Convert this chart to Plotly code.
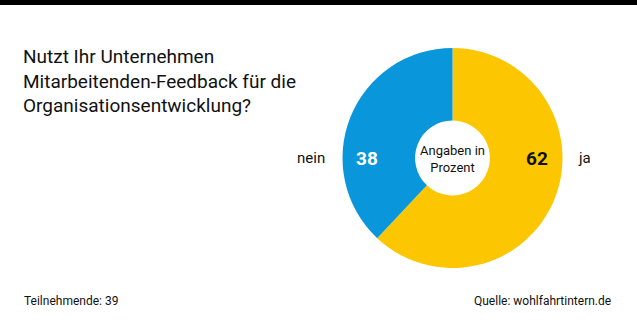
import plotly.graph_objects as go

categories = ["ja", "nein"]
values = [62, 38]
colors = ["#fcc600", "#0a96da"]
title_lines = ["Nutzt Ihr Unternehmen", "Mitarbeitenden-Feedback für die", "Organisationsentwicklung?"]
center_text = "Angaben in<br>Prozent"
footer_left = "Teilnehmende: 39"
footer_right = "Quelle: wohlfahrtintern.de"

W, H = 637, 325
FONT = "Roboto, Arial, sans-serif"

cx, cy, r = 452.5, 158, 110
fig = go.Figure(go.Pie(
    labels=categories, values=values, sort=False, direction="clockwise", rotation=0,
    hole=0.34, marker=dict(colors=colors, line=dict(width=0)),
    textinfo="none", hoverinfo="label+value", showlegend=False,
    domain=dict(x=[(cx - r) / W, (cx + r) / W], y=[(H - cy - r) / H, (H - cy + r) / H]),
))

def px(x): return x / W
def py(y): return 1 - y / H

ann = []
for i, line in enumerate(title_lines):
    ann.append(dict(x=px(21), y=py(57 + 24.5 * i), xanchor="left", yanchor="middle",
                    text=line, align="left", showarrow=False,
                    font=dict(family=FONT, size=19, color="#111")))
ann.append(dict(x=px(cx), y=py(159), xanchor="center", yanchor="middle", text=center_text,
                showarrow=False, font=dict(family=FONT, size=13, color="#111")))
ann.append(dict(x=px(537), y=py(158), xanchor="center", yanchor="middle", text=f"<b>{values[0]}</b>",
                showarrow=False, font=dict(family=FONT, size=19, color="#111")))
ann.append(dict(x=px(367), y=py(158), xanchor="center", yanchor="middle", text=f"<b>{values[1]}</b>",
                showarrow=False, font=dict(family=FONT, size=19, color="white")))
ann.append(dict(x=px(584), y=py(158), xanchor="center", yanchor="middle", text=categories[0],
                showarrow=False, font=dict(family=FONT, size=15, color="#111")))
ann.append(dict(x=px(311), y=py(158), xanchor="center", yanchor="middle", text=categories[1],
                showarrow=False, font=dict(family=FONT, size=15, color="#111")))
ann.append(dict(x=px(22), y=py(301), xanchor="left", yanchor="middle", text=footer_left,
                showarrow=False, font=dict(family=FONT, size=12, color="#111")))
ann.append(dict(x=px(613), y=py(301), xanchor="right", yanchor="middle", text=footer_right,
                showarrow=False, font=dict(family=FONT, size=12, color="#111")))

fig.update_layout(
    width=W, height=H, margin=dict(l=0, r=0, t=0, b=0),
    paper_bgcolor="white", plot_bgcolor="white", annotations=ann,
    shapes=[dict(type="rect", xref="paper", yref="paper", x0=0, x1=1, y0=py(5), y1=1,
                 fillcolor="black", line=dict(width=0))],
)
fig.write_html("out.html")
